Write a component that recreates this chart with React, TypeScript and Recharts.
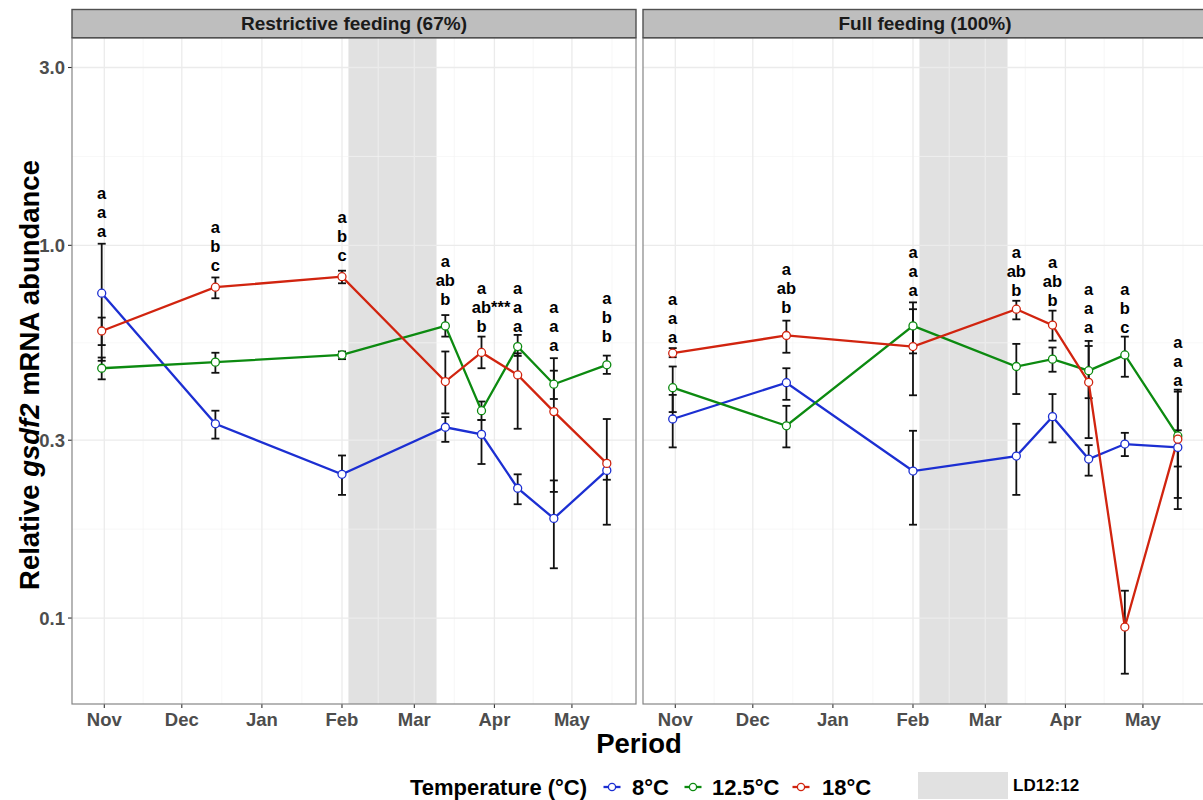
import React from 'react';
import { ComposedChart, Line, XAxis, YAxis, ErrorBar, ReferenceArea, ReferenceLine } from 'recharts';

// ---- data ----
const sampleDays = [-1, 43, 92, 132, 146, 160, 174, 194.5]; // days since 1 Nov
const monthTicks = [0, 30, 61, 92, 120, 151, 181];
const monthLabels = ['Nov', 'Dec', 'Jan', 'Feb', 'Mar', 'Apr', 'May'];
const monthMinor = [15, 45.5, 76.5, 106, 135.5, 166, 196.5];
const yTicks = [0.1, 0.3, 1, 3];
const yTickLabels = ['0.1', '0.3', '1.0', '3.0'];
const yMinor = [0.1732, 0.5477, 1.732];
const ldPeriod = [94.5, 128.6];
const xDomain = [-12.5, 205.8];
const yDomain = [0.0588, 3.6];

const temps = ['8°C', '12.5°C', '18°C'];
const tempColors = ['#1c2fd2', '#0c8a10', '#d1240f'];

// Restrictive feeding (67%)
const r8Mean = [0.744, 0.332, 0.243, 0.325, 0.311, 0.223, 0.185, 0.249];
const r8Hi = [1.01, 0.36, 0.273, 0.346, 0.34, 0.243, 0.234, 0.263];
const r8Lo = [0.49, 0.303, 0.214, 0.297, 0.259, 0.202, 0.136, 0.235];
const r12Mean = [0.468, 0.486, 0.508, 0.608, 0.36, 0.535, 0.424, 0.478];
const r12Hi = [0.5, 0.515, 0.519, 0.65, 0.381, 0.575, 0.461, 0.506];
const r12Lo = [0.437, 0.455, 0.495, 0.569, 0.34, 0.505, 0.387, 0.452];
const r18Mean = [0.589, 0.772, 0.824, 0.431, 0.516, 0.449, 0.358, 0.26];
const r18Hi = [0.64, 0.82, 0.855, 0.519, 0.569, 0.513, 0.498, 0.342];
const r18Lo = [0.54, 0.721, 0.791, 0.354, 0.468, 0.322, 0.218, 0.178];
const rLetters = [
  ['a', 'a', 'a'], ['a', 'b', 'c'], ['a', 'b', 'c'], ['a', 'ab', 'b'],
  ['a', 'ab***', 'b'], ['a', 'a', 'a'], ['a', 'a', 'a'], ['a', 'b', 'b'],
];
const rLetterAnchor = [1.088, 0.885, 0.938, 0.717, 0.605, 0.605, 0.538, 0.569];

// Full feeding (100%)
const f8Mean = [0.342, 0.428, 0.248, 0.272, 0.347, 0.267, 0.293, 0.287];
const f8Hi = [0.397, 0.468, 0.318, 0.332, 0.399, 0.291, 0.314, 0.319];
const f8Lo = [0.287, 0.385, 0.178, 0.214, 0.296, 0.241, 0.272, 0.255];
const f12Mean = [0.415, 0.328, 0.608, 0.473, 0.495, 0.461, 0.508, 0.308];
const f12Hi = [0.473, 0.371, 0.703, 0.544, 0.532, 0.537, 0.569, 0.405];
const f12Lo = [0.357, 0.287, 0.513, 0.399, 0.458, 0.389, 0.444, 0.21];
const f18Mean = [0.5135, 0.573, 0.535, 0.674, 0.611, 0.429, 0.0946, 0.302];
const f18Hi = [0.53, 0.628, 0.674, 0.71, 0.668, 0.554, 0.1184, 0.41];
const f18Lo = [0.501, 0.515, 0.396, 0.633, 0.555, 0.304, 0.0709, 0.196];
const fLetters = [
  ['a', 'a', 'a'], ['a', 'ab', 'b'], ['a', 'a', 'a'], ['a', 'ab', 'b'],
  ['a', 'ab', 'b'], ['a', 'a', 'a'], ['a', 'b', 'c'], ['a', 'a', 'a'],
];
const fLetterAnchor = [0.567, 0.682, 0.756, 0.756, 0.713, 0.603, 0.603, 0.435];

const panelTitles = ['Restrictive feeding (67%)', 'Full feeding (100%)'];

// ---- helpers ----
const FONT = '"Liberation Sans", Arial, Helvetica, sans-serif';

function buildSeries(mean: number[], hi: number[], lo: number[]) {
  return sampleDays.map((d, i) => ({ day: d, value: mean[i], err: [mean[i] - lo[i], hi[i] - mean[i]] }));
}
function buildAnnot(letters: string[][], anchor: number[]) {
  return sampleDays.map((d, i) => ({ day: d, value: anchor[i], labels: letters[i] }));
}

const renderAnnot = (props: any) => {
  const { cx, cy, payload, index } = props;
  if (cx == null || cy == null) return <g key={`an-${index}`} />;
  const labels: string[] = payload.labels;
  const n = labels.length;
  return (
    <g key={`an-${index}`}>
      {labels.map((l, i) => {
        const m = l.match(/^([^*]*)(\**)$/);
        const main = m ? m[1] : l;
        const stars = m ? m[2] : '';
        const y = cy - (n - 1 - i) * 19 + 5.5;
        return (
          <g key={i}>
            <text x={cx} y={y} textAnchor="middle" fontFamily={FONT} fontWeight={700} fontSize={16.5} fill="#000">
              {main}
            </text>
            {stars ? (
              <text x={cx + main.length * 4.8} y={y} textAnchor="start" fontFamily={FONT} fontWeight={700} fontSize={16.5} fill="#000">
                {stars}
              </text>
            ) : null}
          </g>
        );
      })}
    </g>
  );
};

function Panel({ seriesList, annot, showY, width }: any) {
  return (
    <ComposedChart width={width} height={740} margin={{ top: 38, right: showY ? 4 : 0, left: 0, bottom: 6 }}>
      <XAxis
        type="number"
        dataKey="day"
        domain={xDomain}
        allowDataOverflow
        ticks={monthTicks}
        interval={0}
        tickFormatter={(v: number) => monthLabels[monthTicks.indexOf(v)] ?? ''}
        tick={{ fill: '#4d4d4d', fontSize: 18.5, fontWeight: 700, fontFamily: FONT }}
        tickLine={{ stroke: '#333', strokeWidth: 1.1 }}
        axisLine={false}
        tickSize={4}
        tickMargin={5}
        height={30}
      />
      <YAxis
        type="number"
        dataKey="value"
        scale="log"
        domain={yDomain}
        allowDataOverflow
        ticks={yTicks}
        interval={0}
        tickFormatter={(v: number) => yTickLabels[yTicks.indexOf(v)] ?? ''}
        tick={{ fill: '#4d4d4d', fontSize: 18.5, fontWeight: 700, fontFamily: FONT }}
        tickLine={{ stroke: '#333', strokeWidth: 1.1 }}
        axisLine={false}
        tickSize={4}
        tickMargin={3}
        width={72}
        hide={!showY}
      />
      {yMinor.map((v) => (
        <ReferenceLine key={`ym${v}`} y={v} stroke="#f3f3f3" strokeWidth={0.7} ifOverflow="hidden" />
      ))}
      {monthMinor.map((v) => (
        <ReferenceLine key={`xm${v}`} x={v} stroke="#f3f3f3" strokeWidth={0.7} ifOverflow="hidden" />
      ))}
      {yTicks.map((v) => (
        <ReferenceLine key={`yM${v}`} y={v} stroke="#ebebeb" strokeWidth={1.3} ifOverflow="hidden" />
      ))}
      {monthTicks.map((v) => (
        <ReferenceLine key={`xM${v}`} x={v} stroke="#ebebeb" strokeWidth={1.3} ifOverflow="hidden" />
      ))}
      <ReferenceArea x1={ldPeriod[0]} x2={ldPeriod[1]} fill="#c4c4c4" fillOpacity={0.5} stroke="none" ifOverflow="hidden" />
      {seriesList.map((s: any, k: number) => (
        <Line
          key={temps[k]}
          data={s}
          dataKey="value"
          name={temps[k]}
          stroke={tempColors[k]}
          strokeWidth={2.3}
          dot={{ r: 4, fill: '#fff', stroke: tempColors[k], strokeWidth: 1.3 }}
          activeDot={false}
          isAnimationActive={false}
        >
          <ErrorBar dataKey="err" direction="y" width={4} stroke="#111" strokeWidth={1.8} />
        </Line>
      ))}
      <Line
        data={annot}
        dataKey="value"
        stroke="none"
        dot={renderAnnot}
        activeDot={false}
        legendType="none"
        isAnimationActive={false}
      />
    </ComposedChart>
  );
}

export default function App() {
  const left = [buildSeries(r8Mean, r8Hi, r8Lo), buildSeries(r12Mean, r12Hi, r12Lo), buildSeries(r18Mean, r18Hi, r18Lo)];
  const right = [buildSeries(f8Mean, f8Hi, f8Lo), buildSeries(f12Mean, f12Hi, f12Lo), buildSeries(f18Mean, f18Hi, f18Lo)];
  const panels = [
    { x: 72, w: 564 },
    { x: 643, w: 564 },
  ];
  const legendItems = [
    { key: 612, text: 632 },
    { key: 693, text: 712 },
    { key: 801, text: 822 },
  ];
  return (
    <div style={{ position: 'absolute', left: 0, top: 0, width: 1203, height: 800, overflow: 'hidden', background: '#fff', fontFamily: FONT }}>
      <div style={{ position: 'absolute', left: 0, top: 0 }}>
        <Panel seriesList={left} annot={buildAnnot(rLetters, rLetterAnchor)} showY width={640} />
      </div>
      <div style={{ position: 'absolute', left: 643, top: 0 }}>
        <Panel seriesList={right} annot={buildAnnot(fLetters, fLetterAnchor)} showY={false} width={564} />
      </div>
      <svg width={1203} height={800} style={{ position: 'absolute', left: 0, top: 0, pointerEvents: 'none' }}>
        {panels.map((p, i) => (
          <g key={i}>
            <rect x={p.x} y={38} width={p.w} height={666} fill="none" stroke="#858585" strokeWidth={1.2} />
            <rect x={p.x} y={9.5} width={p.w} height={28.2} fill="#bebebe" stroke="#505050" strokeWidth={1.4} />
            <text x={p.x + p.w / 2} y={30} textAnchor="middle" fontFamily={FONT} fontWeight={700} fontSize={19} fill="#1a1a1a">
              {panelTitles[i]}
            </text>
          </g>
        ))}
        <text transform="translate(39,375) rotate(-90)" textAnchor="middle" fontFamily={FONT} fontWeight={700} fontSize={27.5} fill="#000">
          Relative <tspan fontStyle="italic">gsdf2</tspan> mRNA abundance
        </text>
        <text x={639} y={753} textAnchor="middle" fontFamily={FONT} fontWeight={700} fontSize={27.5} fill="#000">
          Period
        </text>
        <text x={410} y={795} fontFamily={FONT} fontWeight={700} fontSize={22} fill="#000">
          Temperature (°C)
        </text>
        {legendItems.map((it, i) => (
          <g key={temps[i]}>
            <line x1={it.key - 8.5} x2={it.key + 8.5} y1={787} y2={787} stroke={tempColors[i]} strokeWidth={2.3} />
            <circle cx={it.key} cy={787} r={3.6} fill="#fff" stroke={tempColors[i]} strokeWidth={1.3} />
            <text x={it.text} y={795} fontFamily={FONT} fontWeight={700} fontSize={22} fill="#000">
              {temps[i]}
            </text>
          </g>
        ))}
        <rect x={918} y={772} width={90} height={27} fill="#e1e1e1" />
        <text x={1013} y={791} fontFamily={FONT} fontWeight={700} fontSize={17} fill="#000">
          LD12:12
        </text>
      </svg>
    </div>
  );
}
